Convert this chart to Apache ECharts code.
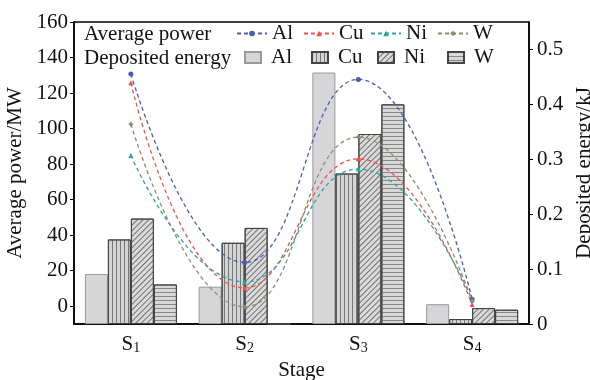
<!DOCTYPE html>
<html>
<head>
<meta charset="utf-8">
<script src="https://cdn.jsdelivr.net/npm/echarts@6/dist/echarts.min.js"></script>
<style>
  html, body { margin: 0; padding: 0; background: #fff; }
  #chart { width: 590px; height: 380px; }
</style>
</head>
<body>
<div id="chart"></div>
<script>
  // categories
  const stages = ['S1', 'S2', 'S3', 'S4'];
  const metals = ['Al', 'Cu', 'Ni', 'W'];
  // average power / MW (lines)
  const powerAl = [130.7, 24.6, 127.7, 4];
  const powerCu = [125.8, 10.3, 83, 1];
  const powerNi = [84.9, 13.7, 77.2, 3.5];
  const powerW = [102.5, -0.4, 95.2, 3];
  // deposited energy / kJ (bars)
  const energyAl = [0.091, 0.068, 0.458, 0.036];
  const energyCu = [0.154, 0.148, 0.274, 0.009];
  const energyNi = [0.192, 0.175, 0.346, 0.029];
  const energyW = [0.072, 0, 0.400, 0.026];
  // tick labels
  const powerTicks = [0, 20, 40, 60, 80, 100, 120, 140, 160];
  const energyTicks = [0, 0.1, 0.2, 0.3, 0.4, 0.5];

  const font = "'Liberation Serif', 'Times New Roman', serif";
  const fs = 21;
  const lineColors = {Al: '#4a5cb6', Cu: '#f0504a', Ni: '#2aa5a0', W: '#8c8c70'};
  const marks = {Al: 'circle', Cu: 'triangle', Ni: 'triangle', W: 'diamond'};
  // legend slots (left edge of each icon)
  const lineLegendX = [236, 303, 370, 437];
  const barLegendX = [244, 311, 377, 447];

  const chart = echarts.init(document.getElementById('chart'));

  function lineSeries(key, data) {
    return {
      name: key + '_P',
      type: 'line',
      yAxisIndex: 0,
      data: data,
      smooth: 0.5,
      symbol: marks[key],
      symbolSize: 5,
      z: 5,
      itemStyle: {color: lineColors[key]},
      lineStyle: {color: lineColors[key], width: 1.3, type: [4, 3]}
    };
  }

  function barSeries(key, data, fill, border, decal) {
    return {
      name: key + '_E',
      type: 'bar',
      yAxisIndex: 1,
      data: data,
      barWidth: 23,
      barGap: '0%',
      itemStyle: {color: fill, borderColor: border, borderWidth: 1, decal: decal}
    };
  }

  const legends = [];
  metals.forEach((m, i) => {
    legends.push({
      data: [m + '_P'], left: lineLegendX[i], top: 23, padding: 0,
      itemWidth: 30, itemHeight: 7,
      formatter: n => n.slice(0, -2),
      textStyle: {fontFamily: font, fontSize: fs, color: '#111'}
    });
    legends.push({
      data: [{name: m + '_E', icon: 'rect'}], left: barLegendX[i], top: 47, padding: 0,
      itemWidth: 16, itemHeight: 11,
      formatter: n => n.slice(0, -2),
      textStyle: {fontFamily: font, fontSize: fs, color: '#111', padding: [0, 0, 0, 5]}
    });
  });

  const option = {
    animation: false,
    textStyle: {fontFamily: font},
    grid: {
      left: 74, right: 61, top: 22, bottom: 56, outerBoundsMode: 'none',
      show: true, borderColor: '#000', borderWidth: 1.5, backgroundColor: 'transparent'
    },
    graphic: [
      {type: 'text', left: 84, top: 24, style: {text: 'Average power', font: fs + 'px ' + font, fill: '#111'}},
      {type: 'text', left: 84, top: 48, style: {text: 'Deposited energy', font: fs + 'px ' + font, fill: '#111'}}
    ],
    legend: legends,
    xAxis: {
      type: 'category',
      data: stages,
      name: 'Stage',
      nameLocation: 'middle',
      nameGap: 36,
      nameTextStyle: {fontFamily: font, fontSize: fs, color: '#111'},
      axisLine: {onZero: false, lineStyle: {color: '#000', width: 1.5}},
      axisTick: {show: false},
      axisLabel: {
        margin: 10,
        color: '#111',
        formatter: v => '{s|S}{sub|' + v.slice(1) + '}',
        rich: {
          s: {fontFamily: font, fontSize: fs, color: '#111', lineHeight: 21},
          sub: {fontFamily: font, fontSize: 14, color: '#111', lineHeight: 14, verticalAlign: 'bottom', padding: [9, 0, 0, 0]}
        }
      }
    },
    yAxis: [
      {
        type: 'value',
        min: -10,
        max: 160,
        name: 'Average power/MW',
        nameLocation: 'middle',
        nameRotate: 90,
        nameGap: 39,
        nameTextStyle: {fontFamily: font, fontSize: fs, color: '#111'},
        splitLine: {show: false},
        axisLine: {show: true, onZero: false, lineStyle: {color: '#000', width: 1.5}},
        axisTick: {show: true, length: 4, customValues: powerTicks, lineStyle: {color: '#000'}},
        axisLabel: {customValues: powerTicks, fontFamily: font, fontSize: fs, color: '#111', margin: 6}
      },
      {
        type: 'value',
        min: 0,
        max: 0.55,
        name: 'Deposited energy/kJ',
        nameLocation: 'middle',
        nameRotate: 90,
        nameGap: 41,
        nameTextStyle: {fontFamily: font, fontSize: fs, color: '#111'},
        splitLine: {show: false},
        axisLine: {show: true, onZero: false, lineStyle: {color: '#000', width: 1.5}},
        axisTick: {show: true, length: 4, customValues: energyTicks, lineStyle: {color: '#000'}},
        axisLabel: {customValues: energyTicks, fontFamily: font, fontSize: fs, color: '#111', margin: 8}
      }
    ],
    series: [
      barSeries('Al', energyAl, '#d6d6d8', '#9a9a9a', null),
      barSeries('Cu', energyCu, '#d4d4d4', '#444', {
        symbol: 'rect', symbolSize: 1, color: 'rgba(90,90,90,0.75)',
        dashArrayX: [1, 3], dashArrayY: [10, 0]
      }),
      barSeries('Ni', energyNi, '#dadada', '#444', {
        symbol: 'rect', symbolSize: 1, color: 'rgba(80,80,80,0.75)',
        dashArrayX: [1, 3], dashArrayY: [10, 0], rotation: Math.PI / 4
      }),
      barSeries('W', energyW, '#d8d8d8', '#444', {
        symbol: 'rect', symbolSize: 1, color: 'rgba(110,110,110,0.75)',
        dashArrayX: [10, 0], dashArrayY: [1, 3]
      }),
      lineSeries('Al', powerAl),
      lineSeries('Cu', powerCu),
      lineSeries('Ni', powerNi),
      lineSeries('W', powerW)
    ]
  };
  chart.setOption(option);
</script>
</body>
</html>
